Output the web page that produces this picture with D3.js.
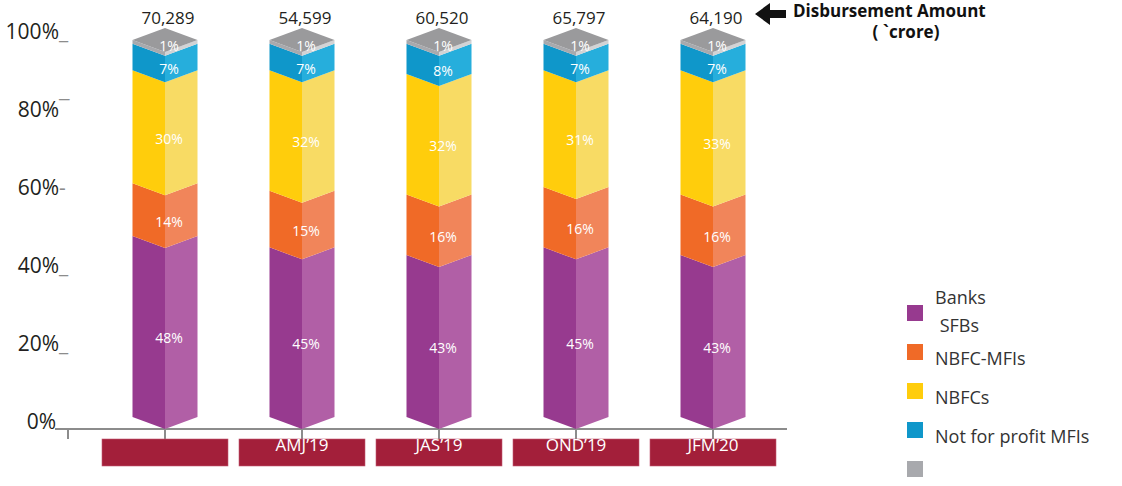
<!DOCTYPE html>
<html><head><meta charset="utf-8">
<script src="https://cdn.jsdelivr.net/npm/d3@7"></script>
<style>body{margin:0;background:#fff}svg{display:block}</style>
</head><body>
<svg id="chart" width="1122" height="486"></svg>
<script>
// ---------- data ----------
const categories = ["", "AMJ\u201919", "JAS\u201919", "OND\u201919", "JFM\u201920"];
const totals = ["70,289", "54,599", "60,520", "65,797", "64,190"];
const seriesNames = ["Banks SFBs", "NBFC-MFIs", "NBFCs", "Not for profit MFIs", "Others"];
const legendLabels = [["Banks", " SFBs"], ["NBFC-MFIs"], ["NBFCs"], ["Not for profit MFIs"], [""]];
const banks = [48, 45, 43, 45, 43];
const nbfcMfis = [14, 15, 16, 16, 16];
const nbfcs = [30, 32, 32, 31, 33];
const notForProfit = [7, 7, 8, 7, 7];
const others = [1, 1, 1, 1, 1];
const yTicks = [0, 20, 40, 60, 80, 100];
const tickGlyphs = ["", "_", "_", "-", "\u00AF", "_"];
const annotation = ["Disbursement Amount", "( `crore)"];

// ---------- styles ----------
const leftColors = ["#973A8F", "#F06A27", "#FFCD0C", "#0F97CA", "#A8A9AD"];
const rightColors = ["#B15FA6", "#F1855A", "#F8DB64", "#26AEDC", "#D2D3D5"];
const topColor = "#9A9A9C";
const font = "'Open Sans', 'DejaVu Sans', sans-serif";

const svg = d3.select("#chart");
const rows = categories.map((c, i) => ({
  cat: c, i,
  s0: banks[i], s1: nbfcMfis[i], s2: nbfcs[i], s3: notForProfit[i], s4: others[i]
}));
const keys = ["s0", "s1", "s2", "s3", "s4"];
const layers = d3.stack().keys(keys)(rows);

const x = d3.scalePoint().domain(categories.map((c, i) => i)).range([165, 713]);
const y = d3.scaleLinear().domain([0, 100]).range([417, 40]);
const yLab = d3.scaleLinear().domain([0, 100]).range([421, 31]);
const half = 32.5, depth = 12;

// ---------- axis ----------
const baseY = y(0) + depth;
svg.append("line").attr("x1", 55).attr("x2", 787).attr("y1", baseY).attr("y2", baseY)
  .attr("stroke", "#8C8C8C").attr("stroke-width", 2);
const tickXs = [68].concat(categories.map((c, i) => x(i)));
svg.selectAll(".xtick").data(tickXs).enter().append("line")
  .attr("x1", d => d).attr("x2", d => d).attr("y1", baseY).attr("y2", baseY + 10)
  .attr("stroke", "#8C8C8C").attr("stroke-width", 2);

// y labels
const yl = svg.append("g");
yl.selectAll("text.lab").data(yTicks).enter().append("text")
  .attr("x", d => d === 0 ? 56 : 59).attr("y", d => yLab(d)).attr("dy", "0.36em")
  .attr("text-anchor", "end").attr("font-family", font).attr("font-size", 21)
  .attr("fill", "#231F20").text(d => d + "%");
yl.selectAll("text.gl").data(yTicks).enter().append("text")
  .attr("x", 59).attr("y", d => yLab(d)).attr("dy", "0.36em")
  .attr("font-family", font).attr("font-size", 21)
  .attr("fill", "#8C8C8C").text((d, i) => tickGlyphs[i]);

// ---------- category boxes ----------
const boxes = svg.selectAll(".box").data(rows).enter().append("g");
boxes.append("rect").attr("x", d => x(d.i) - 63).attr("y", 439).attr("width", 126).attr("height", 27)
  .attr("fill", "#A31F3A").attr("stroke", "#C25A73").attr("stroke-width", 0.6);
boxes.append("text").attr("x", d => x(d.i)).attr("y", 451)
  .attr("text-anchor", "middle").attr("font-family", font).attr("font-size", 17)
  .attr("fill", "#fff").text(d => d.cat);

// ---------- bars ----------
const bars = svg.append("g");
layers.forEach((layer, k) => {
  layer.forEach((seg, i) => {
    const cx = x(i), ya = y(seg[0]), yb = y(seg[1]);
    bars.append("path")
      .attr("d", `M${cx - half},${ya} L${cx},${ya + depth} L${cx},${yb + depth} L${cx - half},${yb} Z`)
      .attr("fill", leftColors[k]);
    bars.append("path")
      .attr("d", `M${cx},${ya + depth} L${cx + half},${ya} L${cx + half},${yb} L${cx},${yb + depth} Z`)
      .attr("fill", rightColors[k]);
  });
});
// top faces
rows.forEach(r => {
  const cx = x(r.i), yt = y(100);
  bars.append("path")
    .attr("d", `M${cx - half},${yt} L${cx},${yt - depth} L${cx + half},${yt} L${cx},${yt + depth} Z`)
    .attr("fill", topColor);
});
// percent labels (topmost thin series sits on the top face)
layers.forEach((layer, k) => {
  const isTop = k === layers.length - 1;
  layer.forEach((seg, i) => {
    const ly = isTop ? y(seg[1]) + 6 : (y(seg[0]) + y(seg[1])) / 2 + depth;
    bars.append("text")
      .attr("x", x(i) + 4).attr("y", ly)
      .attr("dy", "0.35em").attr("text-anchor", "middle")
      .attr("font-family", font).attr("font-size", 14).attr("fill", "#fff")
      .text(seg[1] - seg[0] + "%");
  });
});
// totals
svg.selectAll(".tot").data(totals).enter().append("text")
  .attr("x", (d, i) => x(i) + 3).attr("y", y(100) - depth - 4)
  .attr("text-anchor", "middle").attr("font-family", font).attr("font-size", 17)
  .attr("fill", "#231F20").text(d => d);

// ---------- annotation ----------
svg.append("path")
  .attr("d", "M755,14 L770,3 L770,10 L786,10 L786,18 L770,18 L770,25 Z")
  .attr("fill", "#111");
svg.append("text").attr("x", 793).attr("y", 17).attr("font-family", font)
  .attr("font-weight", "bold").attr("font-size", 17).attr("fill", "#111").text(annotation[0]);
svg.append("text").attr("x", 906).attr("y", 38).attr("text-anchor", "middle").attr("font-family", font)
  .attr("font-weight", "bold").attr("font-size", 17).attr("fill", "#111").text(annotation[1]);

// ---------- legend ----------
const lyS = d3.scalePoint().domain(seriesNames).range([313, 469]);
const lg = svg.selectAll(".lg").data(seriesNames).enter().append("g");
lg.append("rect").attr("x", 907).attr("y", d => lyS(d) - 8).attr("width", 16).attr("height", 16)
  .attr("fill", (d, i) => leftColors[i]);
lg.each(function (d, i) {
  const lines = legendLabels[i];
  const t = d3.select(this).append("text").attr("font-family", font).attr("font-size", 18).attr("fill", "#333");
  lines.forEach((ln, j) => {
    t.append("tspan").attr("x", 935)
      .attr("y", lines.length > 1 ? lyS(d) - 9 + j * 28 : lyS(d) + 13)
      .attr("xml:space", "preserve").style("white-space", "pre").text(ln);
  });
});
</script>
</body></html>
